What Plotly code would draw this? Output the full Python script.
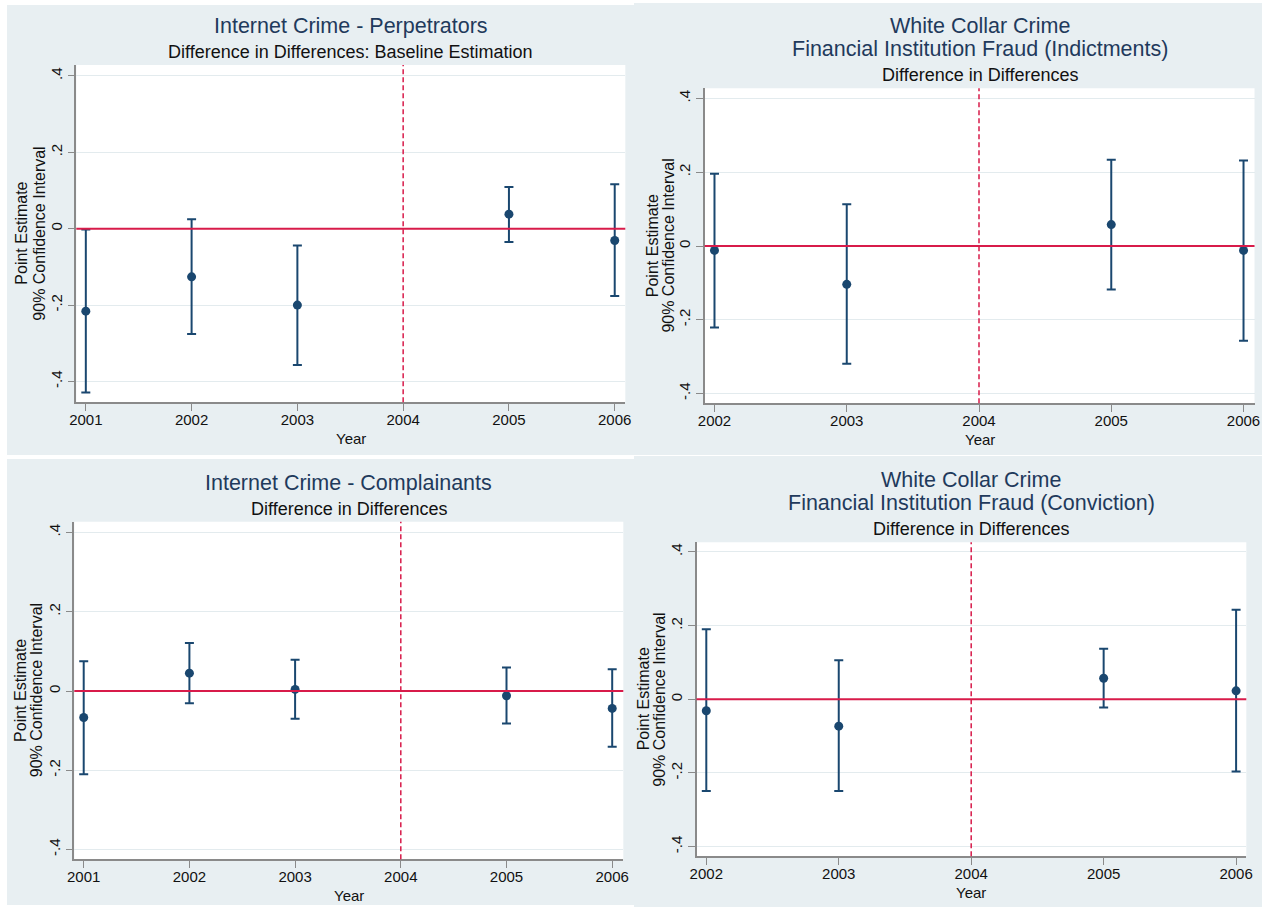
import plotly.graph_objects as go

W, H = 1270, 907

# ---------------- data ----------------
years_a = [2001, 2002, 2003, 2005, 2006]
years_b = [2002, 2003, 2005, 2006]

perp_est = [-0.216, -0.126, -0.200, 0.038, -0.031]
perp_lo = [-0.429, -0.276, -0.357, -0.035, -0.176]
perp_hi = [-0.002, 0.025, -0.044, 0.109, 0.116]

indict_est = [-0.012, -0.104, 0.058, -0.012]
indict_lo = [-0.221, -0.319, -0.118, -0.257]
indict_hi = [0.196, 0.113, 0.234, 0.232]

compl_est = [-0.067, 0.045, 0.004, -0.012, -0.044]
compl_lo = [-0.210, -0.031, -0.070, -0.082, -0.141]
compl_hi = [0.075, 0.121, 0.079, 0.059, 0.055]

conv_est = [-0.031, -0.073, 0.057, 0.023]
conv_lo = [-0.249, -0.249, -0.022, -0.196]
conv_hi = [0.190, 0.106, 0.137, 0.243]

xticks_a = [2001, 2002, 2003, 2004, 2005, 2006]
xticks_b = [2002, 2003, 2004, 2005, 2006]
yticks = [-0.4, -0.2, 0, 0.2, 0.4]
ytick_text = ["-.4", "-.2", "0", ".2", ".4"]

event_year = 2004
ref_value = 0

titles = [
    ["Internet Crime - Perpetrators"],
    ["White Collar Crime", "Financial Institution Fraud (Indictments)"],
    ["Internet Crime - Complainants"],
    ["White Collar Crime", "Financial Institution Fraud (Conviction)"],
]
subtitles = [
    "Difference in Differences: Baseline Estimation",
    "Difference in Differences",
    "Difference in Differences",
    "Difference in Differences",
]
ytitle_lines = ["Point Estimate", "90% Confidence Interval"]
xtitle = "Year"

# ---------------- styling ----------------
NAVY = "#1a476f"
RED = "#d81b4a"
BG = "#e8eff2"
GRID = "#e3ebee"
AXIS = "#8a8a8a"
TITLE_C = "#1f3a5c"
FONT = "Liberation Sans, Arial, sans-serif"

# panel layout in pixels: plot area (left, right, top, bottom), x range, y range,
# title line y centres, subtitle y, y-title x centres, Year y
panels = [
    dict(years=years_a, est=perp_est, lo=perp_lo, hi=perp_hi, xt=xticks_a,
         plot=(76.3, 625.3, 65.0, 402.3), xr=[2000.91, 2006.10], yr=[-0.4545, 0.4285],
         ty=[25.5], sy=52, yx=[22, 40], yy=438),
    dict(years=years_b, est=indict_est, lo=indict_lo, hi=indict_hi, xt=xticks_b,
         plot=(704.7, 1254.5, 88.3, 403.3), xr=[2001.926, 2006.083], yr=[-0.4266, 0.4277],
         ty=[25.5, 49], sy=75.5, yx=[652.4, 668.8], yy=439.5),
    dict(years=years_a, est=compl_est, lo=compl_lo, hi=compl_hi, xt=xticks_a,
         plot=(74.3, 623.3, 521.7, 859.3), xr=[2000.911, 2006.105], yr=[-0.4248, 0.4273],
         ty=[482.5], sy=509, yx=[20.4, 36.7], yy=895),
    dict(years=years_b, est=conv_est, lo=conv_lo, hi=conv_hi, xt=xticks_b,
         plot=(696.5, 1246.3, 542.3, 856.3), xr=[2001.926, 2006.077], yr=[-0.4262, 0.4262],
         ty=[479.5, 503], sy=529, yx=[643, 659.4], yy=892.5),
]

bg_rects = [(7, 634, 5, 455), (634, 1262, 3, 455), (7, 634, 459, 905), (634, 1262, 456, 907)]


def px(x):
    return x / W


def py(y):
    return 1 - y / H


fig = go.Figure()
shapes = []
annotations = []

for (x0, x1, y0, y1) in bg_rects:
    shapes.append(dict(type="rect", xref="paper", yref="paper", x0=px(x0), x1=px(x1),
                       y0=py(y1), y1=py(y0), fillcolor=BG, line=dict(width=0), layer="below"))

for i, p in enumerate(panels):
    n = i + 1
    xa = "x" if n == 1 else f"x{n}"
    ya = "y" if n == 1 else f"y{n}"
    l, r, t, b = p["plot"]
    # white plot region
    shapes.append(dict(type="rect", xref="paper", yref="paper", x0=px(l), x1=px(r),
                       y0=py(b), y1=py(t), fillcolor="white", line=dict(width=0), layer="below"))
    up = [h - e for h, e in zip(p["hi"], p["est"])]
    dn = [e - lo for e, lo in zip(p["est"], p["lo"])]
    fig.add_trace(go.Scatter(
        x=p["years"], y=p["est"], mode="markers", xaxis=xa, yaxis=ya,
        marker=dict(color=NAVY, size=9),
        error_y=dict(type="data", symmetric=False, array=up, arrayminus=dn,
                     color=NAVY, thickness=2, width=4.5),
        showlegend=False, cliponaxis=False,
    ))
    xkey = "xaxis" if n == 1 else f"xaxis{n}"
    ykey = "yaxis" if n == 1 else f"yaxis{n}"
    fig.update_layout(**{
        xkey: dict(domain=[px(l), px(r)], range=p["xr"], anchor=ya,
                   tickvals=p["xt"], ticktext=[str(v) for v in p["xt"]],
                   showgrid=False, zeroline=False, showline=True, linecolor=AXIS, linewidth=1.5,
                   ticks="outside", ticklen=7, tickcolor=AXIS, tickwidth=1.2,
                   ticklabelstandoff=-4,
                   tickfont=dict(family=FONT, size=15, color="#111"), fixedrange=True),
        ykey: dict(domain=[py(b), py(t)], range=p["yr"], anchor=xa,
                   tickvals=yticks, ticktext=ytick_text, tickangle=-90,
                   showgrid=True, gridcolor=GRID, gridwidth=1.2, zeroline=False,
                   showline=True, linecolor=AXIS, linewidth=1.5,
                   ticks="outside", ticklen=7, tickcolor=AXIS, tickwidth=1.2,
                   tickfont=dict(family=FONT, size=15, color="#111"), fixedrange=True),
    })
    # reference lines
    shapes.append(dict(type="line", xref=f"{xa} domain", yref=ya, x0=0, x1=1,
                       y0=ref_value, y1=ref_value, line=dict(color=RED, width=2)))
    shapes.append(dict(type="line", xref=xa, yref=f"{ya} domain", x0=event_year, x1=event_year,
                       y0=0, y1=1, line=dict(color=RED, width=1.5, dash="5px,3px")))
    cx = px((l + r) / 2)
    for line_text, ty in zip(titles[i], p["ty"]):
        annotations.append(dict(text=line_text, x=cx, y=py(ty), xref="paper", yref="paper",
                                showarrow=False, xanchor="center", yanchor="middle",
                                font=dict(family=FONT, size=21.5, color=TITLE_C)))
    annotations.append(dict(text=subtitles[i], x=cx, y=py(p["sy"]), xref="paper", yref="paper",
                            showarrow=False, xanchor="center", yanchor="middle",
                            font=dict(family=FONT, size=18, color="#111")))
    cy = py((t + b) / 2)
    for line_text, yx in zip(ytitle_lines, p["yx"]):
        annotations.append(dict(text=line_text, x=px(yx), y=cy, xref="paper", yref="paper",
                                showarrow=False, xanchor="center", yanchor="middle", textangle=-90,
                                font=dict(family=FONT, size=16, color="#111")))
    annotations.append(dict(text=xtitle, x=cx, y=py(p["yy"]), xref="paper", yref="paper",
                            showarrow=False, xanchor="center", yanchor="middle",
                            font=dict(family=FONT, size=15, color="#111")))

fig.update_layout(
    width=W, height=H, margin=dict(l=0, r=0, t=0, b=0, autoexpand=False),
    paper_bgcolor="white", plot_bgcolor="white",
    shapes=shapes, annotations=annotations, showlegend=False,
)

fig.write_html("out.html", config={"displayModeBar": False},
               post_script="document.body.style.margin='0';")
